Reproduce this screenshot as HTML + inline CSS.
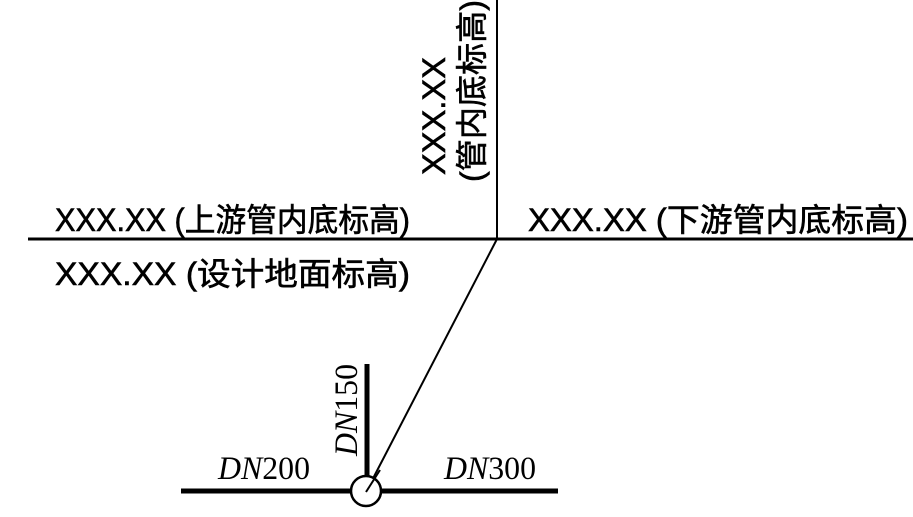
<!DOCTYPE html>
<html><head><meta charset="utf-8"><style>html,body{margin:0;padding:0;background:#fff}</style></head>
<body>
<svg width="913" height="517" viewBox="0 0 913 517" xmlns="http://www.w3.org/2000/svg" style="display:block">
<g stroke="#000" fill="none">
<line x1="28" y1="239" x2="913" y2="239" stroke-width="3"/>
<line x1="497" y1="0" x2="497" y2="239" stroke-width="2"/>
<line x1="497" y1="239" x2="366" y2="492" stroke-width="2"/>
<line x1="181" y1="491" x2="351" y2="491" stroke-width="5"/>
<line x1="381" y1="491" x2="558" y2="491" stroke-width="5"/>
<line x1="367" y1="364" x2="367" y2="477" stroke-width="5"/>
<circle cx="366" cy="491" r="15" stroke-width="2.5" fill="#fff"/>
<line x1="380" y1="470" x2="366" y2="492" stroke-width="2"/>
</g>
<g font-family="'Liberation Sans','Noto Sans CJK SC',sans-serif" font-size="32" fill="#000" stroke="#000" stroke-width="0.6">
<text x="55" y="231" textLength="355" lengthAdjust="spacingAndGlyphs">XXX.XX (上游管内底标高)</text>
<text x="528" y="231" textLength="380" lengthAdjust="spacingAndGlyphs">XXX.XX (下游管内底标高)</text>
<text x="55" y="285" textLength="355" lengthAdjust="spacingAndGlyphs">XXX.XX (设计地面标高)</text>
<text transform="translate(445,175) rotate(-90)" textLength="118" lengthAdjust="spacingAndGlyphs">XXX.XX</text>
<text transform="translate(483,182) rotate(-90)" textLength="182" lengthAdjust="spacingAndGlyphs">(管内底标高)</text>
</g>
<g font-family="'Liberation Serif',serif" font-size="33" fill="#000">
<text x="218" y="479" textLength="92" lengthAdjust="spacingAndGlyphs"><tspan font-style="italic">DN</tspan>200</text>
<text x="444" y="479" textLength="92" lengthAdjust="spacingAndGlyphs"><tspan font-style="italic">DN</tspan>300</text>
<text transform="translate(357,456) rotate(-90)" textLength="92" lengthAdjust="spacingAndGlyphs"><tspan font-style="italic">DN</tspan>150</text>
</g>
</svg>
</body></html>
